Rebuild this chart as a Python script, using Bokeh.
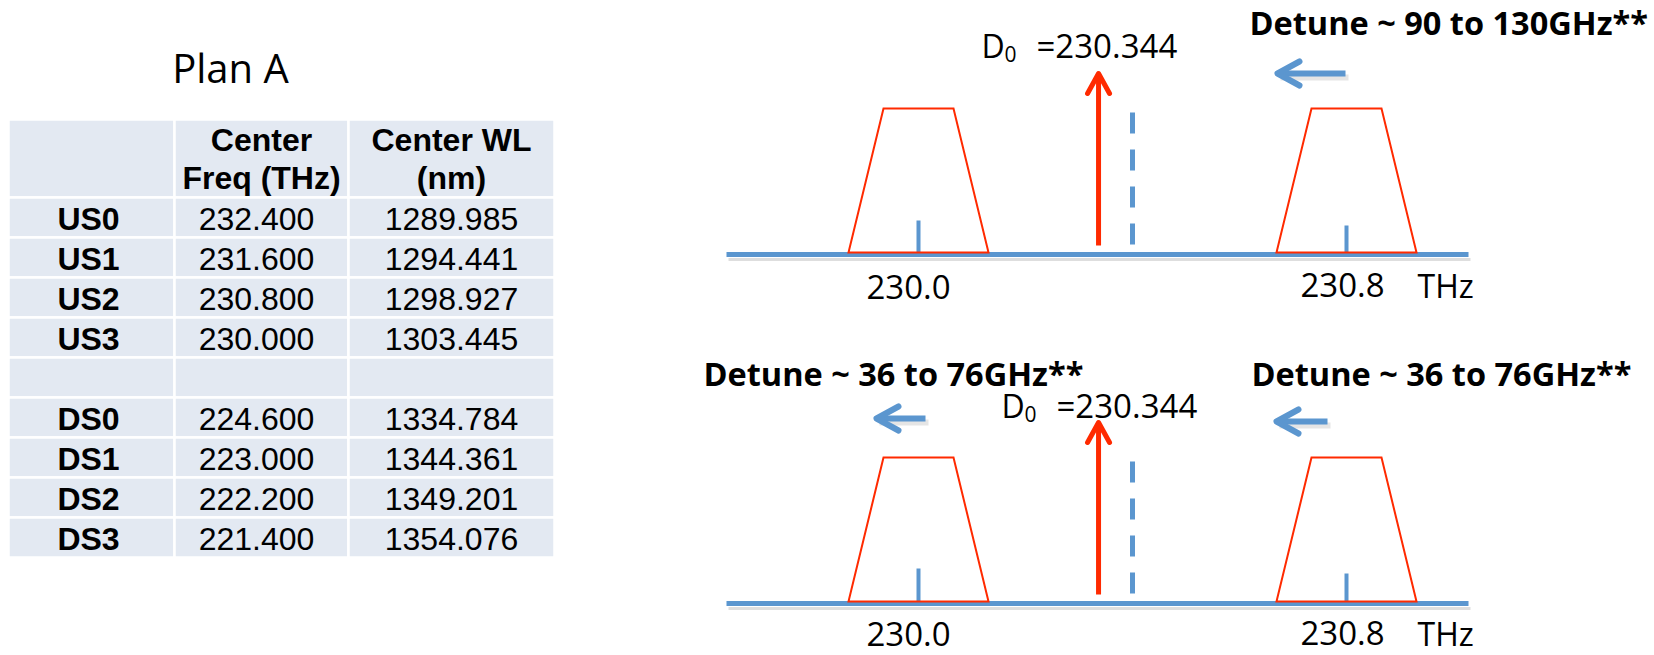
from bokeh.plotting import figure
from bokeh.layouts import row
from bokeh.models import Range1d
from bokeh.core.properties import value
from bokeh.embed import file_html
from bokeh.resources import INLINE

# ---------------- data ----------------
table_title = "Plan A"
col_header_line1 = ["", "Center", "Center WL"]
col_header_line2 = ["", "Freq (THz)", "(nm)"]
channels = ["US0", "US1", "US2", "US3", "", "DS0", "DS1", "DS2", "DS3"]
center_freq_thz = ["232.400", "231.600", "230.800", "230.000", "",
                   "224.600", "223.000", "222.200", "221.400"]
center_wl_nm = ["1289.985", "1294.441", "1298.927", "1303.445", "",
                "1334.784", "1344.361", "1349.201", "1354.076"]

band_centers_thz = [230.0, 230.8]
band_labels = ["230.0", "230.8"]
d0_thz = 230.344
d0_value_label = "=230.344"
mid_thz = 230.4
unit_label = "THz"
detune_top = ["Detune ~ 90 to 130GHz**"]
detune_bottom = ["Detune ~ 36 to 76GHz**", "Detune ~ 36 to 76GHz**"]

# ---------------- styles ----------------
BLUE = "#5b96cf"
RED = "#ff2a00"
CELL = "#e3e9f2"
SLIDE_FONT = value("Open Sans")
TABLE_FONT = value("Liberation Sans")
H = 655
W = 1654

# ---------------- table figure ----------------
tw = 620
pt = figure(width=tw, height=H, x_range=Range1d(0, tw), y_range=Range1d(H, 0),
            output_backend="svg", toolbar_location=None, min_border=0)
pt.axis.visible = False
pt.grid.visible = False
pt.outline_line_color = None
pt.background_fill_color = "white"
pt.border_fill_color = "white"

col_edges = [8, 174, 348, 554]
col_centers = [(col_edges[i] + col_edges[i + 1]) / 2 for i in range(3)]
table_top = 119
header_h = 78
row_h = 40

lefts, rights, tops, bottoms = [], [], [], []
for c in range(3):
    lefts.append(col_edges[c]); rights.append(col_edges[c + 1])
    tops.append(table_top); bottoms.append(table_top + header_h)
    for r in range(len(channels)):
        lefts.append(col_edges[c]); rights.append(col_edges[c + 1])
        tops.append(table_top + header_h + r * row_h)
        bottoms.append(table_top + header_h + (r + 1) * row_h)
pt.quad(left=lefts, right=rights, top=tops, bottom=bottoms,
        fill_color=CELL, line_color="white", line_width=2.5)

pt.text(x=[230], y=[66.5], text=[table_title], text_font=SLIDE_FONT,
        text_font_size="40px", text_align="center", text_baseline="alphabetic",
        text_color="#000000")

TS = "32px"
pt.text(x=col_centers, y=[table_top + 20] * 3, text=col_header_line1,
        text_font=TABLE_FONT, text_font_size=TS, text_font_style="bold",
        text_align="center", text_baseline="alphabetic", text_color="#000000")
pt.text(x=col_centers, y=[table_top + 58] * 3, text=col_header_line2,
        text_font=TABLE_FONT, text_font_size=TS, text_font_style="bold",
        text_align="center", text_baseline="alphabetic", text_color="#000000")

row_baselines = [table_top + header_h + r * row_h + 21 for r in range(len(channels))]
pt.text(x=[col_centers[0] - 3] * len(channels), y=row_baselines, text=channels,
        text_font=TABLE_FONT, text_font_size=TS, text_font_style="bold",
        text_align="center", text_baseline="alphabetic", text_color="#000000")
pt.text(x=[col_centers[1] - 5] * len(channels), y=row_baselines, text=center_freq_thz,
        text_font=TABLE_FONT, text_font_size=TS,
        text_align="center", text_baseline="alphabetic", text_color="#000000")
pt.text(x=[col_centers[2]] * len(channels), y=row_baselines, text=center_wl_nm,
        text_font=TABLE_FONT, text_font_size=TS,
        text_align="center", text_baseline="alphabetic", text_color="#000000")

# ---------------- diagram figure ----------------
dw = W - tw
PX = 535.0       # page pixels per THz
ANCHOR_PX = 918  # page x of the first band centre


def X(px):
    return band_centers_thz[0] + (px - ANCHOR_PX) / PX


def d(px):
    return px / PX


pd = figure(width=dw, height=H, x_range=Range1d(X(tw), X(W)),
            y_range=Range1d(H, 0), output_backend="svg",
            toolbar_location=None, min_border=0)
pd.axis.visible = False
pd.grid.visible = False
pd.outline_line_color = None
pd.background_fill_color = "white"
pd.border_fill_color = "white"

panels = [
    dict(base=254, ticks=[34, 29], d0=(981, 44.5), sub=(1004, 53.5), val=(1036, 44.5),
         arrows=[(1277, 1345, 73)], label_base=[286.5, 284.5],
         detune=[(1249, 21.5)], detune_text=detune_top, dsize="32.5px"),
    dict(base=603, ticks=[35, 30], d0=(1001, 404.5), sub=(1024, 413.5), val=(1056, 404.5),
         arrows=[(876, 925, 418), (1276, 1327, 421)], label_base=[633, 632.5],
         detune=[(703, 372.5), (1251, 372.5)], detune_text=detune_bottom, dsize="32.5px"),
]

for pn in panels:
    b = pn["base"]
    x0 = band_centers_thz[0] - d(192)
    x1 = band_centers_thz[1] + d(122)
    pd.line([x0 + d(2), x1 + d(2)], [b + 5, b + 5], line_color="#d6d6d6",
            line_width=3, line_alpha=0.8)
    pd.line([x0, x1], [b, b], line_color=BLUE, line_width=5)
    pd.segment(x0=band_centers_thz, y0=[b - 2] * 2, x1=band_centers_thz,
               y1=[b - t for t in pn["ticks"]], line_color=BLUE, line_width=4)
    xs = [[c - d(70), c - d(35), c + d(35), c + d(70)] for c in band_centers_thz]
    ys = [[b - 2, b - 146, b - 146, b - 2] for _ in band_centers_thz]
    pd.patches(xs, ys, fill_alpha=0, line_color=RED, line_width=2, line_join="miter")
    pd.line([mid_thz, mid_thz], [b - 142, b - 9], line_color=BLUE, line_width=5,
            line_dash="21 16")
    pd.line([d0_thz - d(4), d0_thz - d(4)], [b - 9, b - 178], line_color=RED, line_width=5)
    pd.line([d0_thz - d(15), d0_thz - d(4), d0_thz + d(7)], [b - 161, b - 181, b - 161],
            line_color=RED, line_width=5, line_join="round", line_cap="round")
    for tip, tail, y in pn["arrows"]:
        pd.line([X(tip) + d(3), X(tail) + d(3)], [y + 4, y + 4], line_color="#cccccc",
                line_width=6, line_alpha=0.5)
        pd.line([X(tip) + d(2), X(tail)], [y, y], line_color=BLUE, line_width=6)
        pd.line([X(tip) + d(22), X(tip), X(tip) + d(22)], [y - 12, y, y + 12],
                line_color=BLUE, line_width=6, line_join="round", line_cap="round")
    pd.text(x=[X(pn["d0"][0])], y=[pn["d0"][1]], text=["D"], text_font=SLIDE_FONT,
            text_font_size="32px", text_align="left", text_baseline="alphabetic")
    pd.text(x=[X(pn["sub"][0])], y=[pn["sub"][1]], text=["0"], text_font=SLIDE_FONT,
            text_font_size="21px", text_align="left", text_baseline="alphabetic")
    pd.text(x=[X(pn["val"][0])], y=[pn["val"][1]], text=[d0_value_label],
            text_font=SLIDE_FONT, text_font_size="33px", text_align="left",
            text_baseline="alphabetic")
    pd.text(x=[band_centers_thz[0] - d(10), band_centers_thz[1] - d(4)],
            y=pn["label_base"], text=band_labels, text_font=SLIDE_FONT,
            text_font_size="33px", text_align="center", text_baseline="alphabetic")
    pd.text(x=[X(1417)], y=[pn["label_base"][1]], text=[unit_label], text_font=SLIDE_FONT,
            text_font_size="32px", text_align="left", text_baseline="alphabetic")
    pd.text(x=[X(px) for px, _ in pn["detune"]], y=[yy for _, yy in pn["detune"]],
            text=pn["detune_text"], text_font=SLIDE_FONT, text_font_size=pn["dsize"],
            text_font_style="bold", text_align="left", text_baseline="alphabetic")

layout = row(pt, pd)
open("out.html", "w").write(file_html(layout, INLINE))
